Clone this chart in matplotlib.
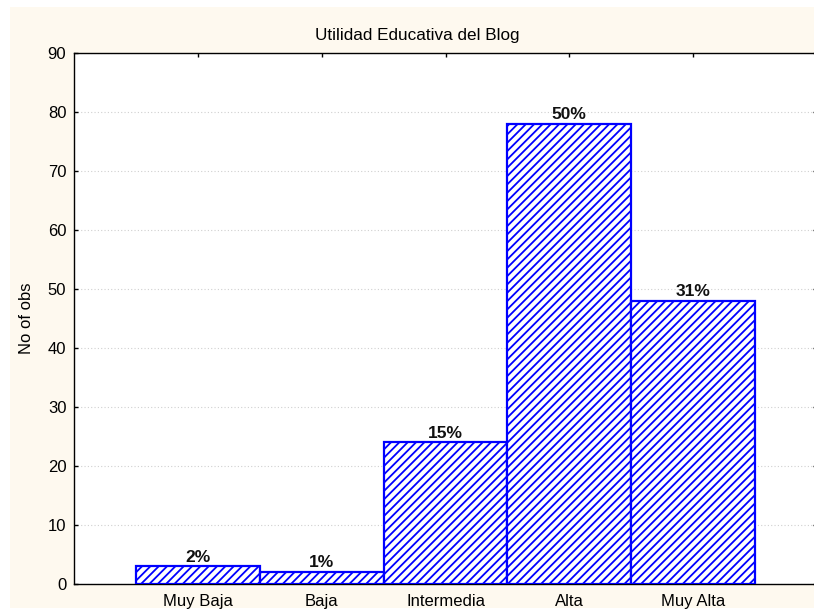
import matplotlib
matplotlib.use("Agg")
import matplotlib.pyplot as plt
from matplotlib.patches import Rectangle

categories = ["Muy Baja", "Baja", "Intermedia", "Alta", "Muy Alta"]
counts = [3, 2, 24, 78, 48]
pct_labels = ["2%", "1%", "15%", "50%", "31%"]
yticks = [0, 10, 20, 30, 40, 50, 60, 70, 80, 90]

plt.rcParams['font.family'] = ['Liberation Sans', 'DejaVu Sans']
plt.rcParams['hatch.linewidth'] = 1.3

W, H = 814, 611
fig = plt.figure(figsize=(W / 100, H / 100), dpi=100, facecolor='white')
fig.patches.append(Rectangle((10 / W, 1 - 608 / H), (W - 10) / W, (608 - 7) / H,
                             transform=fig.transFigure, facecolor='#FEF9EF',
                             edgecolor='none', zorder=-10))

left, right, top, bottom = 74, 817, 53, 584
ax = fig.add_axes([left / W, 1 - bottom / H, (right - left) / W, (bottom - top) / H])
ax.set_zorder(5)
ax.set_facecolor('white')

x = list(range(len(categories)))
bars = ax.bar(x, counts, width=1.0, facecolor='white', edgecolor='#0000FF',
              linewidth=1.6, hatch='////', zorder=3)

for xi, c, lab in zip(x, counts, pct_labels):
    ax.text(xi, c + 0.3, lab, ha='center', va='bottom', fontsize=12.5,
            fontweight='bold', color='#111111', zorder=4)

ax.set_xlim(-1, 5)
ax.set_ylim(0, 90)
ax.set_yticks(yticks)
ax.set_xticks(x)
ax.set_xticklabels(categories)
ax.tick_params(axis='both', direction='in', length=3, width=1, labelsize=12,
               top=True, right=True, colors='black')
ax.tick_params(axis='y', pad=5.5)
ax.tick_params(axis='x', pad=7)
ax.grid(axis='y', linestyle=(0, (1, 2)), color='#d0d0d0', linewidth=0.8, zorder=1)
ax.set_axisbelow(True)
for s in ax.spines.values():
    s.set_linewidth(1.0)
    s.set_color('black')

ax.set_ylabel("No of obs", fontsize=12)
ax.yaxis.set_label_coords(-(74 - 34) / (right - left), 0.5)
fig.text(417 / W, 1 - 40 / H, "Utilidad Educativa del Blog", fontsize=12.3,
         ha='center', va='baseline')

fig.savefig("out.png", dpi=100, facecolor=fig.get_facecolor())
